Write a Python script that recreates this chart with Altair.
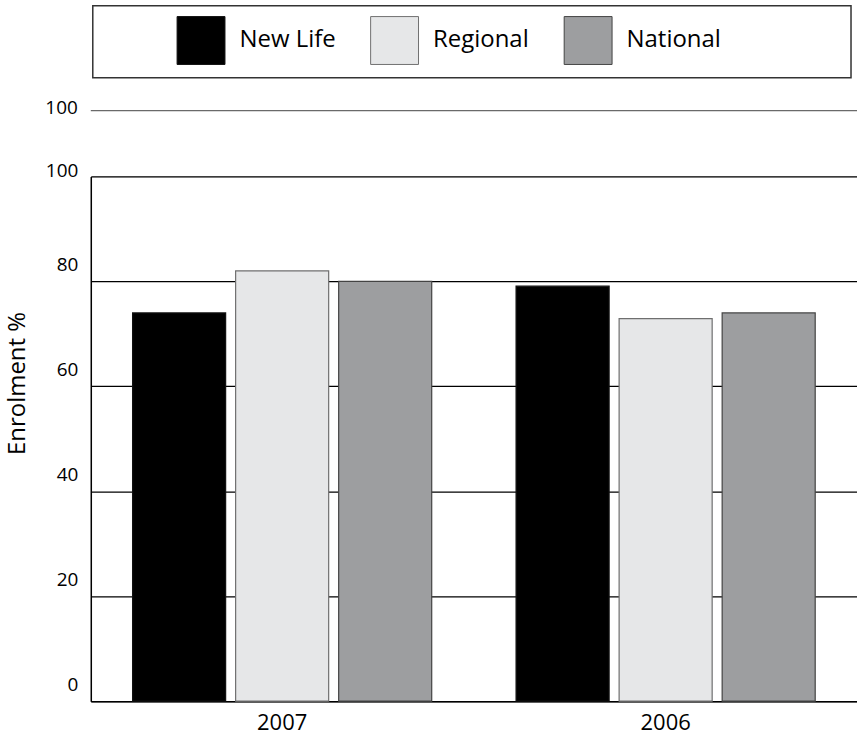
import altair as alt
import pandas as pd

# Enrolment percentages by year and comparison group
years = ["2007", "2006"]
series = ["New Life", "Regional", "National"]
new_life = [74.0, 79.1]
regional = [82.0, 72.9]
national = [80.0, 74.0]

fills = ["#000000", "#e6e7e8", "#9d9ea0"]
strokes = ["#111111", "#6f6f6f", "#444444"]

rows = []
for i, y in enumerate(years):
    for s, vals in zip(series, [new_life, regional, national]):
        rows.append({"year": y, "series": s, "value": vals[i]})
df = pd.DataFrame(rows)

FONT = "Open Sans"
W, H = 768, 526

bars = alt.Chart(df).mark_bar(strokeWidth=1.2).encode(
    x=alt.X(
        "year:N",
        sort=years,
        scale=alt.Scale(paddingInner=0.22, paddingOuter=0.109),
        axis=alt.Axis(
            title=None, labelAngle=0, labelFontSize=22, labelPadding=11,
            ticks=False, domainColor="#000000", domainWidth=1.5,
            labelColor="#000000", labelFont=FONT,
        ),
    ),
    xOffset=alt.XOffset(
        "series:N", sort=series,
        scale=alt.Scale(paddingInner=0.097, paddingOuter=0),
    ),
    y=alt.Y(
        "value:Q",
        scale=alt.Scale(domain=[0, 100], nice=False),
        axis=alt.Axis(
            title="Enrolment %", values=[0, 20, 40, 60, 80, 100],
            grid=True, gridColor="#000000", gridWidth=1.2, gridOpacity=1,
            ticks=False, domainColor="#000000", domainWidth=1.5,
            labelFontSize=19, labelPadding=13, labelColor="#000000",
            labelOffset=alt.condition("datum.value == 100", alt.value(-6), alt.value(-17)),
            labelFont=FONT, titleFont=FONT, titleFontSize=24,
            titleFontWeight="normal", titleColor="#000000",
            titleX=-73, titleY=207, titleAlign="center",
            titleBaseline="middle",
        ),
    ),
    color=alt.Color(
        "series:N", sort=series,
        scale=alt.Scale(domain=series, range=fills),
        legend=alt.Legend(
            title=None, orient="none", legendX=86, legendY=-161,
            direction="horizontal", columns=3, gridAlign="all",
            columnPadding=32, symbolType="square", symbolSize=2304,
            symbolStrokeColor="#444444", symbolStrokeWidth=1,
            symbolOpacity=1, labelFontSize=24, labelFont=FONT,
            labelColor="#000000", labelOffset=14, padding=0,
        ),
    ),
    stroke=alt.Stroke(
        "series:N", sort=series,
        scale=alt.Scale(domain=series, range=strokes), legend=None,
    ),
)

# Frame around the legend
frame = alt.Chart(pd.DataFrame({"k": [0]})).mark_rect(
    fill=None, stroke="#333333", strokeWidth=1.5
).encode(
    x=alt.value(2), x2=alt.value(762), y=alt.value(-171), y2=alt.value(-99)
)

# Extra reference line above the plot with its own label
extra_label = ["100"]
extra = pd.DataFrame({"label": extra_label})
extra_rule = alt.Chart(extra).mark_rule(color="#6a6a6a", strokeWidth=1.2).encode(
    x=alt.value(0), x2=alt.value(W), y=alt.value(-66)
)
extra_text = alt.Chart(extra).mark_text(
    align="right", baseline="middle", fontSize=19, font=FONT, color="#000000"
).encode(x=alt.value(-13), y=alt.value(-69), text="label:N")

chart = alt.layer(bars, frame, extra_rule, extra_text).properties(
    width=W, height=H,
    autosize=alt.AutoSizeParams(type="none"),
    padding={"left": 91, "top": 176, "right": 0, "bottom": 34},
).configure_view(stroke=None).configure(background="#ffffff")

chart.save("out.html", embed_options={"renderer": "svg", "actions": False})
